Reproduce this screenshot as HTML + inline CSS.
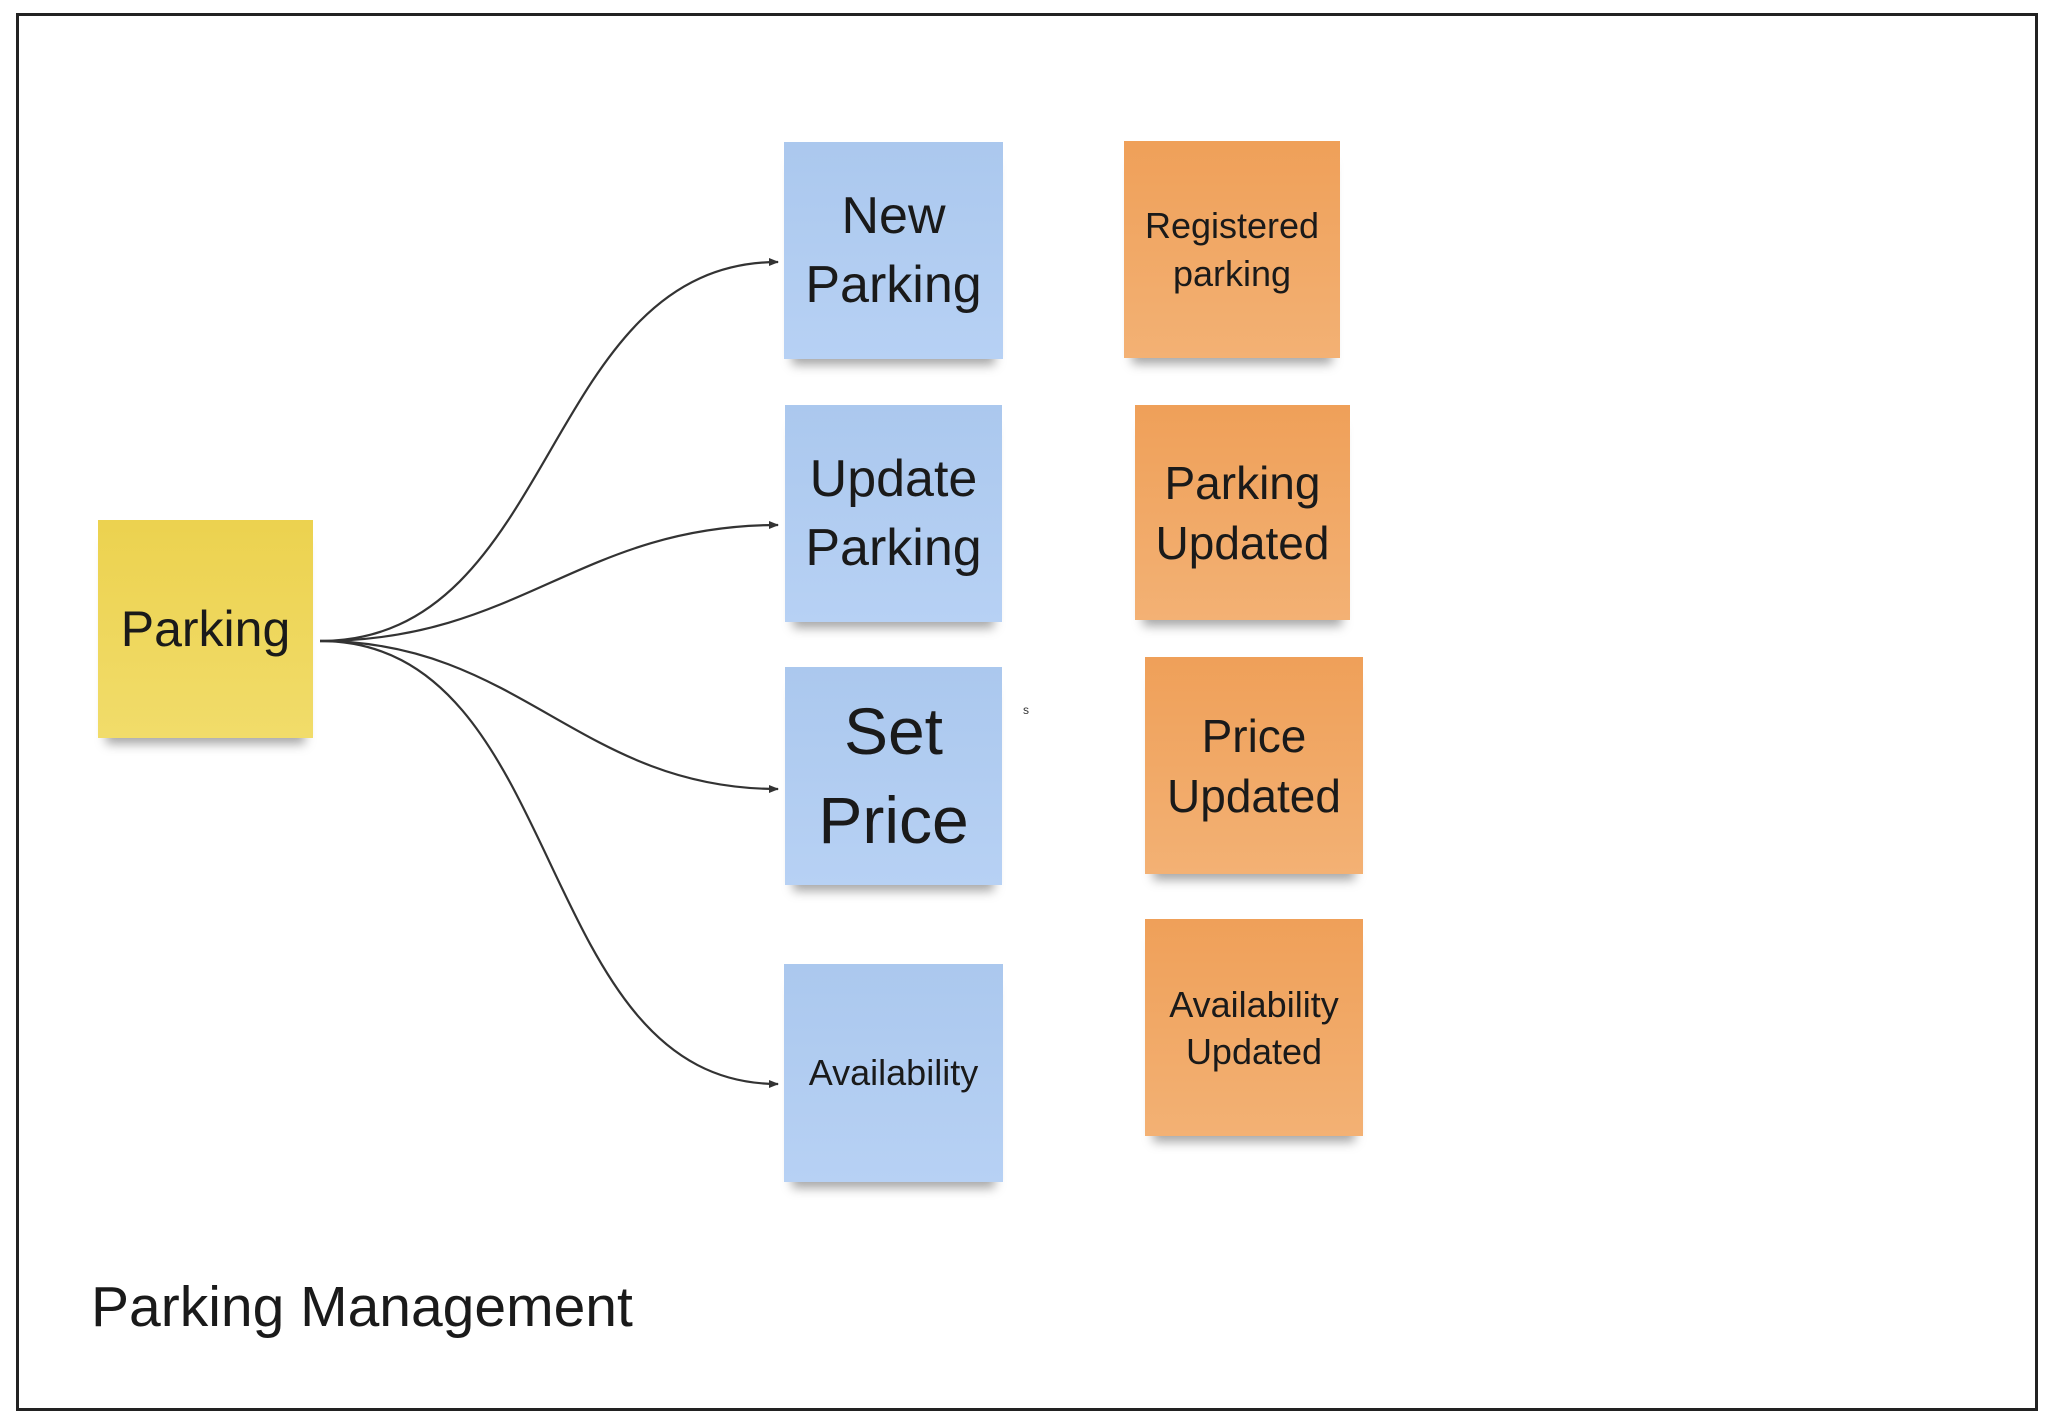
<!DOCTYPE html>
<html><head><meta charset="utf-8"><style>
html,body{margin:0;padding:0;background:#fff;}
body{width:2048px;height:1428px;position:relative;overflow:hidden;font-family:"Liberation Sans",sans-serif;}
.frame{position:absolute;left:16px;top:13px;width:2022px;height:1398px;border:3px solid #222;box-sizing:border-box;}
.n{position:absolute;display:flex;align-items:center;justify-content:center;text-align:center;color:#1a1a1a;box-shadow:0 14px 10px -8px rgba(0,0,0,0.35);}
.b{background:linear-gradient(180deg,#abc8ee,#b7d1f4);}
.o{background:linear-gradient(180deg,#efa059,#f3b174);}
.y{background:linear-gradient(180deg,#ecd24f,#f1dc6a);}
</style></head><body>
<div class="frame"></div>
<svg width="2048" height="1428" style="position:absolute;left:0;top:0">
<defs><marker id="a" markerWidth="10" markerHeight="10" refX="9" refY="5" orient="auto" markerUnits="userSpaceOnUse"><path d="M0,1 L10,5 L0,9 z" fill="#333"/></marker></defs>
<g fill="none" stroke="#333" stroke-width="2.2" marker-end="url(#a)">
<path d="M320,641 C560,641 540,262 778,262"/>
<path d="M320,641 C520,641 580,525 778,525"/>
<path d="M320,641 C520,641 580,789 778,789"/>
<path d="M320,641 C570,641 530,1084 778,1084"/>
</g>
</svg>
<div class="n y" style="left:98px;top:520px;width:215px;height:218px;font-size:50px;">Parking</div>
<div class="n b" style="left:784px;top:142px;width:219px;height:217px;font-size:52px;line-height:69px;">New<br>Parking</div>
<div class="n b" style="left:785px;top:405px;width:217px;height:217px;font-size:52px;line-height:69px;">Update<br>Parking</div>
<div class="n b" style="left:785px;top:667px;width:217px;height:218px;font-size:66px;line-height:89px;">Set<br>Price</div>
<div class="n b" style="left:784px;top:964px;width:219px;height:218px;font-size:36px;">Availability</div>
<div class="n o" style="left:1124px;top:141px;width:216px;height:217px;font-size:36px;line-height:48px;">Registered<br>parking</div>
<div class="n o" style="left:1135px;top:405px;width:215px;height:215px;font-size:46px;line-height:60px;">Parking<br>Updated</div>
<div class="n o" style="left:1145px;top:657px;width:218px;height:217px;font-size:46px;line-height:60px;">Price<br>Updated</div>
<div class="n o" style="left:1145px;top:919px;width:218px;height:217px;font-size:36px;line-height:47px;">Availability<br>Updated</div>
<div style="position:absolute;left:1023px;top:703px;font-size:12px;color:#333;">s</div>
<div style="position:absolute;left:91px;top:1274px;font-size:57px;color:#1a1a1a;">Parking Management</div>
</body></html>
